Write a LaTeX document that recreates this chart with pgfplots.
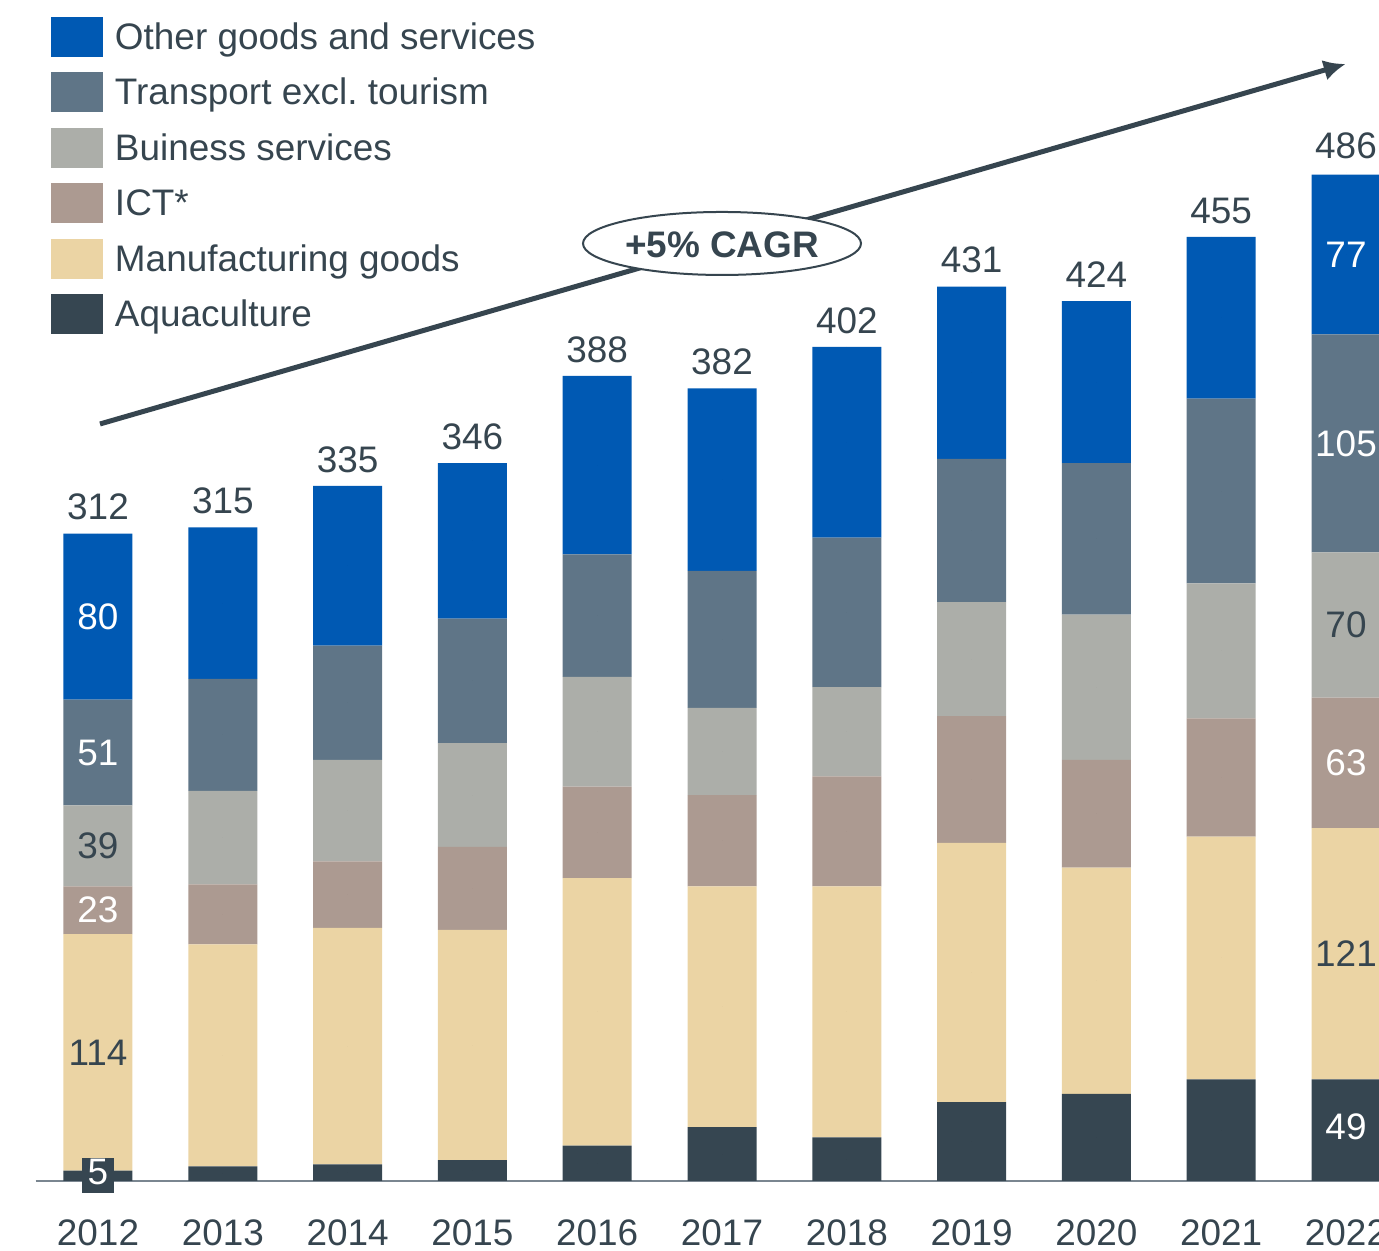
\documentclass[border=0pt]{standalone}
\usepackage{pgfplots}
\pgfplotsset{compat=1.18}
\usepackage{pgfplotstable}
\usepackage{fontspec}
\setmainfont{Liberation Sans}
\usetikzlibrary{arrows.meta}
\definecolor{cOth}{HTML}{0059B3}
\definecolor{cTr}{HTML}{5F7587}
\definecolor{cBus}{HTML}{ACAEA9}
\definecolor{cIct}{HTML}{AC9A91}
\definecolor{cMf}{HTML}{EBD4A4}
\definecolor{cAq}{HTML}{364651}
\definecolor{cTxt}{HTML}{36454F}
\definecolor{cAxis}{HTML}{7A8690}
\newcommand\fsz{\fontsize{10.5pt}{12pt}\selectfont}
% segment values, labels written inside the bars (0 = no label), totals
\pgfplotstableread[col sep=comma]{
x,aq,mf,ict,bus,tr,oth,laq,lmf,lict,lbus,ltr,loth,tot
0,5,114,23,39,51,80,5,114,23,39,51,80,312
1,7,107,29,45,54,73,0,0,0,0,0,0,315
2,8,114,32,49,55,77,0,0,0,0,0,0,335
3,10,111,40,50,60,75,0,0,0,0,0,0,346
4,17,129,44,53,59,86,0,0,0,0,0,0,388
5,26,116,44,42,66,88,0,0,0,0,0,0,382
6,21,121,53,43,72,92,0,0,0,0,0,0,402
7,38,125,61,55,69,83,0,0,0,0,0,0,431
8,42,109,52,70,73,78,0,0,0,0,0,0,424
9,49,117,57,65,89,78,0,0,0,0,0,0,455
10,49,121,63,70,105,77,49,121,63,70,105,77,486
}\datatable
\pgfplotsset{
  legsq/.style={
    legend image code/.code={
      \path[draw=none, fill=none] (0,-1.5mm) rectangle (5.2mm,4.04mm);
      \fill[##1] (0,-0.75mm) rectangle (5.2mm,3.25mm);}},
  frame/.style={
    at={(3.56mm,7mm)}, anchor=south west,
    scale only axis, width=137.28mm, height=103.75mm,
    xmin=-0.5, xmax=10.5, ymin=0, ymax=500,
    enlargelimits=false, clip=false},
  lab/.style={only marks, mark=*, mark size=0pt, mark options={draw=none, fill=none},
    point meta=explicit symbolic,
    nodes near coords={\ifnum\pgfplotspointmeta=0 \else\pgfplotspointmeta\fi},
    every node near coord/.style={text=#1, anchor=center, inner sep=0pt, font=\fsz}},
}
\begin{document}
\frenchspacing
\begin{tikzpicture}
\useasboundingbox (0,0) rectangle (137.9mm,125.1mm);
\clip (0,0) rectangle (137.9mm,125.1mm);
\begin{axis}[frame,
  ybar stacked, bar width=6.9mm,
  axis x line*=bottom, axis y line=none,
  x axis line style={draw=cAxis, line width=0.2mm},
  xtick={0,1,2,3,4,5,6,7,8,9,10},
  xticklabels={2012,2013,2014,2015,2016,2017,2018,2019,2020,2021,2022},
  major tick length=0pt, ytick=\empty,
  xticklabel style={inner sep=0pt, anchor=north, yshift=-3.8mm, text=cTxt, font=\fsz},
  /pgf/number format/assume math mode=true,
  legend style={at={(0.01122,1.1295)}, anchor=north west, draw=none, fill=none,
    inner sep=0pt, outer sep=0pt, row sep=0pt, column sep=1.2mm,
    font=\fsz, text=cTxt, nodes={inner sep=0pt}, cells={anchor=base west}},
]
\addlegendimage{legsq, fill=cOth, draw=none}
\addlegendentry{Other goods and services}
\addlegendimage{legsq, fill=cTr, draw=none}
\addlegendentry{Transport excl.\ tourism}
\addlegendimage{legsq, fill=cBus, draw=none}
\addlegendentry{Buiness services}
\addlegendimage{legsq, fill=cIct, draw=none}
\addlegendentry{ICT*}
\addlegendimage{legsq, fill=cMf, draw=none}
\addlegendentry{Manufacturing goods}
\addlegendimage{legsq, fill=cAq, draw=none}
\addlegendentry{Aquaculture}
\addplot[fill=cAq, draw=none] table[x=x, y=aq] {\datatable};
\addplot[fill=cMf, draw=none] table[x=x, y=mf] {\datatable};
\addplot[fill=cIct, draw=none] table[x=x, y=ict] {\datatable};
\addplot[fill=cBus, draw=none] table[x=x, y=bus] {\datatable};
\addplot[fill=cTr, draw=none] table[x=x, y=tr] {\datatable};
\addplot[fill=cOth, draw=none] table[x=x, y=oth] {\datatable};
\end{axis}
% value labels: same frame, non-stacked
\begin{axis}[frame, hide axis]
\addplot[lab=white,
  nodes near coords={\ifnum\pgfplotspointmeta=0 \else\setlength\fboxsep{0pt}\colorbox{cAq}{\rule[-0.85mm]{0pt}{3.5mm}\hspace{0.6mm}\pgfplotspointmeta\hspace{0.6mm}}\fi}]
  table[x=x, y expr=\thisrow{aq}/2, meta=laq] {\datatable};
\addplot[lab=cTxt] table[x=x, y expr=\thisrow{aq}+\thisrow{mf}/2, meta=lmf] {\datatable};
\addplot[lab=white] table[x=x, y expr=\thisrow{aq}+\thisrow{mf}+\thisrow{ict}/2, meta=lict] {\datatable};
\addplot[lab=cTxt] table[x=x, y expr=\thisrow{aq}+\thisrow{mf}+\thisrow{ict}+\thisrow{bus}/2, meta=lbus] {\datatable};
\addplot[lab=white] table[x=x, y expr=\thisrow{aq}+\thisrow{mf}+\thisrow{ict}+\thisrow{bus}+\thisrow{tr}/2, meta=ltr] {\datatable};
\addplot[lab=white] table[x=x, y expr=\thisrow{aq}+\thisrow{mf}+\thisrow{ict}+\thisrow{bus}+\thisrow{tr}+\thisrow{oth}/2, meta=loth] {\datatable};
\addplot[only marks, mark=*, mark size=0pt, mark options={draw=none, fill=none},
  point meta=explicit symbolic, nodes near coords,
  every node near coord/.style={text=cTxt, anchor=south, inner xsep=0pt, inner ysep=1.27mm, font=\fsz}]
  table[x=x, y=tot, meta=tot] {\datatable};
\end{axis}
\draw[cTxt, line width=0.5mm, -{Latex[length=2.2mm,width=2.1mm]}] (10.0mm,82.7mm) -- (134.57mm,118.7mm);
\draw[cTxt, line width=0.2mm, fill=white] (72.2mm,100.75mm) ellipse [x radius=13.9mm, y radius=3.15mm];
\node[text=cTxt, font=\fsz\bfseries, inner sep=0pt] at (72.2mm,100.6mm) {+5\% CAGR};
\end{tikzpicture}
\end{document}
